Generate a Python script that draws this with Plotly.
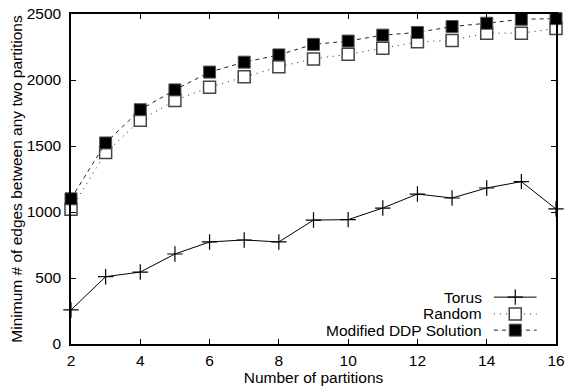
import plotly.graph_objects as go

partitions = list(range(2, 17))
torus = [258, 510, 545, 682, 773, 788, 773, 939, 942, 1030, 1136, 1106, 1182, 1230, 1023]
random_ = [1020, 1450, 1695, 1845, 1945, 2025, 2100, 2160, 2195, 2240, 2290, 2300, 2355, 2355, 2390]
modified = [1100, 1523, 1775, 1925, 2060, 2135, 2190, 2270, 2295, 2340, 2360, 2405, 2430, 2460, 2465]
names = ["Torus", "Random", "Modified DDP Solution"]
x_ticks = [2, 4, 6, 8, 10, 12, 14, 16]
y_ticks = [0, 500, 1000, 1500, 2000, 2500]

FONT = "Liberation Sans, Arial, Helvetica, sans-serif"
FS = 15.5

torus_marker = dict(symbol="cross-thin", size=11, line=dict(color="black", width=1.2), color="black")
random_marker = dict(symbol="square", size=12, color="white", line=dict(color="#444", width=1.5))
mod_marker = dict(symbol="square", size=12, color="black", line=dict(color="#555", width=1))
torus_line = dict(color="black", width=1)
random_line = dict(color="#222", width=1, dash="1px,5px")
mod_line = dict(color="#222", width=1, dash="4px,4px")

fig = go.Figure()
fig.add_trace(go.Scatter(x=partitions, y=torus, mode="lines+markers", line=torus_line,
                         marker=torus_marker, cliponaxis=False, showlegend=False))
fig.add_trace(go.Scatter(x=partitions, y=random_, mode="lines+markers", line=random_line,
                         marker=random_marker, cliponaxis=False, showlegend=False))
fig.add_trace(go.Scatter(x=partitions, y=modified, mode="lines+markers", line=mod_line,
                         marker=mod_marker, cliponaxis=False, showlegend=False))

# custom gnuplot-style legend (text left of sample) on an overlay axis in [0,1]
leg_y = [0.142, 0.091, 0.042]
styles = [(torus_line, torus_marker), (random_line, random_marker), (mod_line, mod_marker)]
x0, x1 = 0.872, 0.96
for name, yy, (ln, mk) in zip(names, leg_y, styles):
    fig.add_trace(go.Scatter(x=[x0, x1], y=[yy, yy], mode="lines", line=ln,
                             xaxis="x2", yaxis="y2", showlegend=False, hoverinfo="skip"))
    fig.add_trace(go.Scatter(x=[(x0 + x1) / 2], y=[yy], mode="markers", marker=mk,
                             xaxis="x2", yaxis="y2", showlegend=False, hoverinfo="skip"))
    fig.add_annotation(x=0.852, y=yy, xref="x2", yref="y2", text=name, showarrow=False,
                       xanchor="right", yanchor="middle", font=dict(family=FONT, size=FS, color="black"))

axis_common = dict(showgrid=False, zeroline=False, showline=True, linecolor="black", linewidth=1.5,
                   mirror="ticks", ticks="inside", ticklen=5, tickcolor="black", automargin=False,
                   tickfont=dict(family=FONT, size=FS, color="black"))

fig.update_layout(
    width=570, height=389,
    margin=dict(l=71, r=14, t=14, b=45),
    paper_bgcolor="white", plot_bgcolor="white",
    xaxis=dict(range=[2, 16], tickvals=x_ticks, ticklabelstandoff=2,
               title=dict(text="Number of partitions", font=dict(family=FONT, size=FS, color="black"), standoff=4),
               **axis_common),
    yaxis=dict(range=[0, 2500], tickvals=y_ticks, ticklabelstandoff=5,
               title=dict(text="Minimum # of edges between any two partitions", font=dict(family=FONT, size=FS, color="black"), standoff=0),
               **axis_common),
    xaxis2=dict(range=[0, 1], overlaying="x", visible=False, fixedrange=True),
    yaxis2=dict(range=[0, 1], overlaying="y", visible=False, fixedrange=True),
    showlegend=False,
)

fig.write_html("out.html", config={"displayModeBar": False})
with open("out.html", "r", encoding="utf-8") as f:
    html = f.read()
html = html.replace("<head>", "<head><style>html,body{margin:0;padding:0;overflow:hidden;}</style>", 1)
with open("out.html", "w", encoding="utf-8") as f:
    f.write(html)
